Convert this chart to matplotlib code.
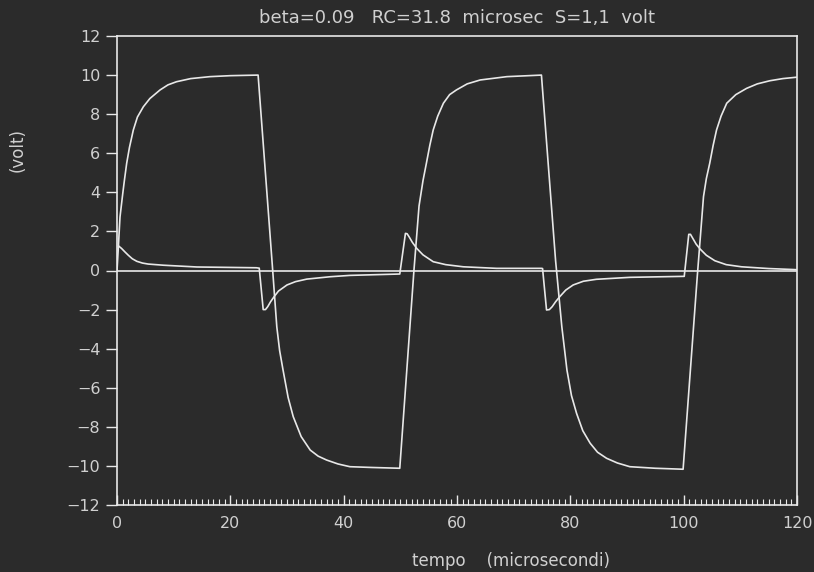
import matplotlib
matplotlib.use("Agg")
import matplotlib.pyplot as plt
from matplotlib.ticker import MultipleLocator

# ---- data (time in microseconds, volts) ----
t_out = [0.0, 0.2, 0.53, 1.0, 1.3, 1.71, 2.2, 2.88, 3.6, 4.65, 5.8, 7.6, 9.0, 10.5, 13.0, 16.4, 20.0, 24.9,
         27.4, 28.2, 28.7, 29.3, 30.2, 31.1, 32.5, 34.1, 35.5, 37.0, 39.0, 41.1, 45.0, 49.9,
         52.4, 53.3, 54.0, 54.6, 55.2, 55.8, 56.6, 57.6, 58.7, 59.9, 61.8, 64.1, 68.8, 74.9,
         77.4, 78.5, 79.0, 79.4, 80.2, 81.1, 82.2, 83.5, 84.8, 86.4, 88.3, 90.5, 95.0, 99.9,
         102.4, 103.5, 104.0, 104.6, 105.2, 105.8, 106.6, 107.6, 109.2, 111.1, 113.0, 115.2, 117.5, 119.9]
v_out = [0.0, 1.0, 2.74, 3.9, 4.6, 5.49, 6.3, 7.19, 7.85, 8.38, 8.8, 9.24, 9.5, 9.66, 9.82, 9.92, 9.97, 10.0,
         0.3, -2.88, -4.1, -5.09, -6.5, -7.48, -8.5, -9.19, -9.5, -9.70, -9.9, -10.04, -10.08, -10.12,
         0.0, 3.3, 4.6, 5.49, 6.4, 7.19, 7.9, 8.56, 9.0, 9.24, 9.55, 9.75, 9.92, 10.0,
         0.5, -2.88, -4.1, -5.09, -6.4, -7.31, -8.2, -8.84, -9.3, -9.61, -9.85, -10.04, -10.12, -10.17,
         -0.3, 3.78, 4.7, 5.49, 6.4, 7.19, 7.9, 8.56, 9.0, 9.32, 9.55, 9.71, 9.82, 9.89]

t_err = [0.3, 0.8, 1.4, 2.0, 2.7, 3.5, 4.5, 5.5, 8.2, 14.1, 24.6, 25.1,
         25.8, 26.2, 26.6, 27.1, 27.7, 28.5, 30.0, 31.5, 33.5, 37.6, 41.1, 49.9,
         50.9, 51.2, 51.6, 52.1, 52.9, 54.0, 55.8, 58.0, 61.1, 67.0, 74.9,
         75.1, 75.8, 76.3, 76.8, 77.4, 78.1, 79.2, 80.5, 82.3, 84.6, 90.5, 99.9,
         100.1, 100.9, 101.2, 101.7, 102.2, 102.9, 104.0, 105.5, 107.5, 110.2, 115.0, 119.3, 120.0]
v_err = [1.25, 1.13, 0.95, 0.78, 0.6, 0.47, 0.38, 0.33, 0.27, 0.18, 0.14, 0.12,
         -2.0, -2.0, -1.85, -1.6, -1.35, -1.05, -0.74, -0.57, -0.44, -0.32, -0.25, -0.18,
         1.9, 1.88, 1.7, 1.45, 1.13, 0.8, 0.45, 0.3, 0.19, 0.11, 0.11,
         0.1, -2.02, -2.0, -1.85, -1.6, -1.35, -1.0, -0.74, -0.55, -0.45, -0.35, -0.3,
         -0.3, 1.85, 1.85, 1.6, 1.35, 1.1, 0.78, 0.5, 0.3, 0.19, 0.1, 0.05, 0.04]

x_ticks = [0, 20, 40, 60, 80, 100, 120]
y_ticks = [-12, -10, -8, -6, -4, -2, 0, 2, 4, 6, 8, 10, 12]

title = "beta=0.09   RC=31.8  microsec  S=1,1  volt"
xlabel = "tempo    (microsecondi)"
ylabel = "(volt)"

BG = "#2b2b2b"
FG = "#d0d0d0"
LINE = "#e8e8e8"

plt.rcParams['font.family'] = ['DejaVu Sans']

fig = plt.figure(figsize=(8.14, 5.72), dpi=100, facecolor=BG)
W, H = 814, 572
ax = fig.add_axes([117 / W, 1 - 505 / H, 680 / W, 469 / H], facecolor=BG)

ax.plot(t_out, v_out, color=LINE, lw=1.2, solid_joinstyle='round')
ax.plot(t_err, v_err, color=LINE, lw=1.2, solid_joinstyle='round')
ax.axhline(0, color=LINE, lw=1.2)

ax.set_xlim(0, 120)
ax.set_ylim(-12, 12)
ax.set_xticks(x_ticks)
ax.set_yticks(y_ticks)
ax.xaxis.set_minor_locator(MultipleLocator(1))

for s in ax.spines.values():
    s.set_color(LINE)
    s.set_linewidth(1.2)

ax.tick_params(axis='x', which='major', direction='in', length=7, width=1,
               color=LINE, labelcolor=FG, labelsize=11.5, pad=8,
               top=False)
ax.tick_params(axis='x', which='minor', direction='in', length=4, width=0.8,
               color=LINE, top=False)
ax.tick_params(axis='y', which='major', direction='out', length=8, width=1,
               color=LINE, labelcolor=FG, labelsize=11.5, pad=4,
               right=False)

fig.text(457 / W, 1 - 18 / H, title, ha='center', va='center',
         color=FG, fontsize=13)
fig.text(511 / W, 1 - 561 / H, xlabel, ha='center', va='center',
         color=FG, fontsize=12)
fig.text(18 / W, 1 - 150 / H, ylabel, ha='center', va='center',
         rotation=90, color=FG, fontsize=12)

fig.savefig("out.png", dpi=100, facecolor=BG)
